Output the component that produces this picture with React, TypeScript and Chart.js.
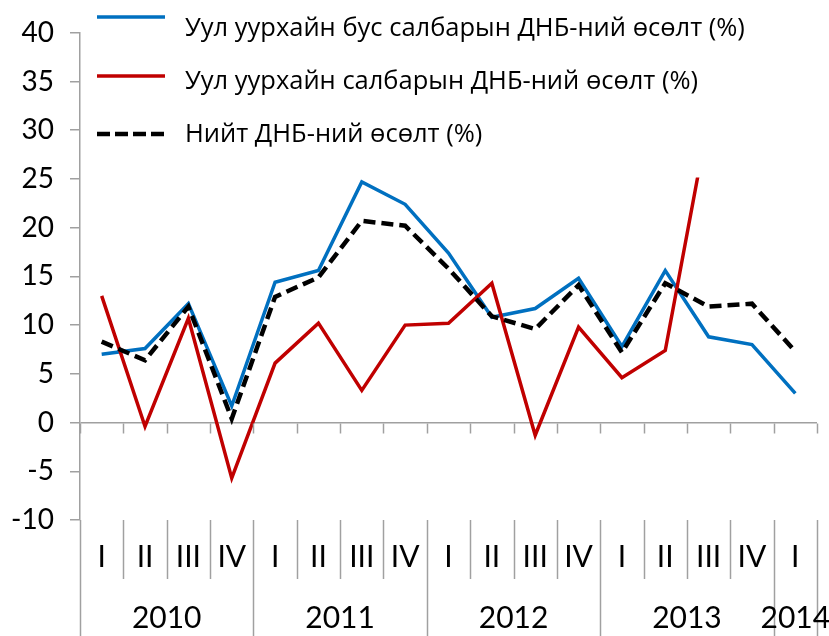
import React, { useEffect, useRef } from 'react';
import { Chart, registerables } from 'chart.js';

Chart.register(...registerables);

const quarterLabels = ['I', 'II', 'III', 'IV', 'I', 'II', 'III', 'IV', 'I', 'II', 'III', 'IV', 'I', 'II', 'III', 'IV', 'I'];
const yearLabels = ['2010', '2011', '2012', '2013', '2014'];
const quartersPerYear = [4, 4, 4, 4, 1];

const nonMiningGrowth = [7.0, 7.6, 12.2, 1.7, 14.4, 15.6, 24.7, 22.4, 17.4, 10.8, 11.7, 14.8, 7.8, 15.6, 8.8, 8.0, 3.0];
const miningGrowth: (number | null)[] = [13.0, -0.4, 10.7, -5.7, 6.1, 10.2, 3.3, 10.0, 10.2, 14.3, -1.3, 9.8, 4.6, 7.4, 31.2, null, null];
const totalGrowth = [8.3, 6.4, 11.9, 0.4, 12.9, 14.9, 20.7, 20.2, 15.8, 10.9, 9.6, 14.1, 7.2, 14.3, 11.9, 12.2, 7.3];

const seriesNames = [
  'Уул уурхайн бус салбарын ДНБ-ний өсөлт (%)',
  'Уул уурхайн салбарын ДНБ-ний өсөлт (%)',
  'Нийт ДНБ-ний өсөлт (%)',
];

const yMin = -10;
const yMax = 40;
const yStep = 5;

const BLUE = '#0070C0';
const RED = '#C00000';
const BLACK = '#000000';
const AXIS = '#a0a0a0';
const DASH = [12, 6];
const AXIS_FONT = 'Lato';
const LEGEND_FONT = '"Open Sans"';

const decorPlugin = {
  id: 'decor',
  afterDatasetsDraw(chart: any) {
    const { ctx } = chart;
    ctx.save();
    // legend box (white, covers plot behind it)
    ctx.fillStyle = '#ffffff';
    ctx.fillRect(82, 0, chart.width - 82, 177.5);

    const samples = [
      { color: BLUE, width: 3.5, dash: [] as number[], y: 17, base: 36 },
      { color: RED, width: 3.5, dash: [] as number[], y: 76, base: 89 },
      { color: BLACK, width: 4.5, dash: [13, 5], y: 134, base: 142 },
    ];
    samples.forEach((s, i) => {
      ctx.beginPath();
      ctx.setLineDash(s.dash);
      ctx.strokeStyle = s.color;
      ctx.lineWidth = s.width;
      ctx.moveTo(97, s.y);
      ctx.lineTo(165, s.y);
      ctx.stroke();
      ctx.setLineDash([]);
      ctx.fillStyle = '#000';
      ctx.font = `25.5px ${LEGEND_FONT}`;
      ctx.textAlign = 'left';
      ctx.textBaseline = 'alphabetic';
      ctx.fillText(seriesNames[i], 185, s.base);
    });
    ctx.restore();
  },
  afterDraw(chart: any) {
    const { ctx, chartArea } = chart;
    const x = chart.scales.x;
    const y = chart.scales.y;
    const n = quarterLabels.length;
    const step = x.getPixelForValue(1) - x.getPixelForValue(0);
    const first = x.getPixelForValue(0) - step / 2;
    const bx = (k: number) => Math.round(first + k * step) + 0.5;
    const y0 = Math.round(y.getPixelForValue(0)) + 0.5;

    const yearBounds: number[] = [0];
    quartersPerYear.forEach((q) => yearBounds.push(yearBounds[yearBounds.length - 1] + q));

    ctx.save();
    ctx.strokeStyle = AXIS;
    ctx.lineWidth = 1.5;
    // tick marks under zero line
    for (let k = 0; k <= n; k++) {
      ctx.beginPath();
      ctx.moveTo(bx(k), y0);
      ctx.lineTo(bx(k), y0 + 10);
      ctx.stroke();
    }
    // separators under the plot
    const top = chartArea.bottom;
    for (let k = 0; k <= n; k++) {
      const isYear = yearBounds.includes(k);
      ctx.beginPath();
      ctx.moveTo(bx(k), top);
      ctx.lineTo(bx(k), isYear ? chart.height : top + 59);
      ctx.stroke();
    }
    // year labels
    ctx.fillStyle = '#000';
    ctx.font = `30px ${AXIS_FONT}`;
    ctx.textAlign = 'center';
    ctx.textBaseline = 'middle';
    for (let i = 0; i < yearLabels.length; i++) {
      const a = first + yearBounds[i] * step;
      const b = first + yearBounds[i + 1] * step;
      ctx.fillText(yearLabels[i], (a + b) / 2, 618);
    }
    ctx.restore();
  },
};

export default function App() {
  const canvasRef = useRef<HTMLCanvasElement | null>(null);

  useEffect(() => {
    document.body.style.margin = '0';
    let chart: Chart | null = null;
    let cancelled = false;

    const build = () => {
      if (cancelled || !canvasRef.current) return;
      chart = new Chart(canvasRef.current, {
        type: 'line',
        data: {
          labels: quarterLabels,
          datasets: [
            {
              label: seriesNames[0],
              data: nonMiningGrowth,
              borderColor: BLUE,
              borderWidth: 3.5,
              pointRadius: 0,
              tension: 0,
              order: 2,
            },
            {
              label: seriesNames[1],
              data: miningGrowth,
              borderColor: RED,
              borderWidth: 3.5,
              pointRadius: 0,
              tension: 0,
              order: 1,
            },
            {
              label: seriesNames[2],
              data: totalGrowth,
              borderColor: BLACK,
              borderWidth: 4.5,
              borderDash: DASH,
              pointRadius: 0,
              tension: 0,
              order: 0,
            },
          ],
        },
        options: {
          responsive: false,
          animation: false,
          layout: { padding: { top: 32, right: 12, left: 0, bottom: 0 } },
          plugins: { legend: { display: false }, tooltip: { enabled: false } },
          scales: {
            x: {
              type: 'category',
              offset: true,
              grid: { display: false, drawTicks: false },
              border: { display: false },
              ticks: {
                color: '#000',
                font: { family: AXIS_FONT, size: 30 },
                padding: 19,
                maxRotation: 0,
                autoSkip: false,
              },
              afterFit: (scale: any) => {
                scale.height = 116;
              },
            },
            y: {
              min: yMin,
              max: yMax,
              ticks: {
                stepSize: yStep,
                color: '#000',
                font: { family: AXIS_FONT, size: 28 },
                padding: 16,
              },
              grid: {
                drawOnChartArea: true,
                color: (c: any) => (c.tick && c.tick.value === 0 ? AXIS : 'rgba(0,0,0,0)'),
                tickColor: AXIS,
                tickLength: 10,
                lineWidth: 1.5,
              },
              border: { display: true, color: AXIS, width: 1.5 },
              afterFit: (scale: any) => {
                scale.width = 80;
              },
            },
          },
        },
        plugins: [decorPlugin],
      });
    };

    const fonts = (document as any).fonts;
    if (fonts && fonts.load) {
      Promise.all([
        fonts.load(`30px ${AXIS_FONT}`),
        fonts.load(`25.5px ${LEGEND_FONT}`),
      ]).then(build, build);
    } else {
      build();
    }

    return () => {
      cancelled = true;
      if (chart) chart.destroy();
    };
  }, []);

  return (
    <div style={{ width: 829, height: 636, position: 'relative' }}>
      <canvas ref={canvasRef} width={829} height={636} style={{ display: 'block' }} />
    </div>
  );
}
